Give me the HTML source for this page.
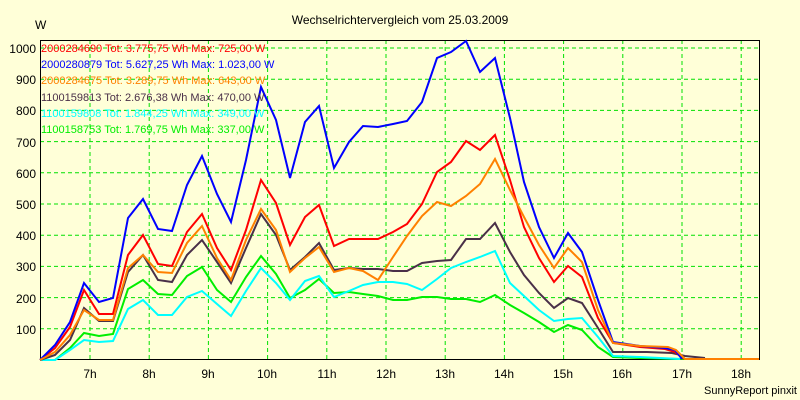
<!DOCTYPE html>
<html><head><style>
html,body{margin:0;padding:0;background:#ffffd8;}
svg{display:block;font-family:"Liberation Sans",sans-serif;}
</style></head><body>
<svg width="800" height="400" viewBox="0 0 800 400" xmlns="http://www.w3.org/2000/svg">
<rect x="0" y="0" width="800" height="400" fill="#ffffd8"/>
<text x="400" y="24" font-size="12" text-anchor="middle" fill="#000">Wechselrichtervergleich vom 25.03.2009</text>
<text x="35" y="29" font-size="12" fill="#000">W</text>
<g stroke="#00e000" stroke-width="1" stroke-dasharray="4,3" fill="none">
<line x1="40" y1="48" x2="759" y2="48"/><line x1="40" y1="79.2" x2="759" y2="79.2"/>
<line x1="40" y1="110.4" x2="759" y2="110.4"/><line x1="40" y1="141.6" x2="759" y2="141.6"/>
<line x1="40" y1="172.8" x2="759" y2="172.8"/><line x1="40" y1="204" x2="759" y2="204"/>
<line x1="40" y1="235.2" x2="759" y2="235.2"/><line x1="40" y1="266.4" x2="759" y2="266.4"/>
<line x1="40" y1="297.6" x2="759" y2="297.6"/><line x1="40" y1="328.8" x2="759" y2="328.8"/>
<line x1="90" y1="40" x2="90" y2="360"/><line x1="149.2" y1="40" x2="149.2" y2="360"/>
<line x1="208.4" y1="40" x2="208.4" y2="360"/><line x1="267.6" y1="40" x2="267.6" y2="360"/>
<line x1="326.8" y1="40" x2="326.8" y2="360"/><line x1="386" y1="40" x2="386" y2="360"/>
<line x1="445.2" y1="40" x2="445.2" y2="360"/><line x1="504.4" y1="40" x2="504.4" y2="360"/>
<line x1="563.6" y1="40" x2="563.6" y2="360"/><line x1="622.8" y1="40" x2="622.8" y2="360"/>
<line x1="682" y1="40" x2="682" y2="360"/><line x1="741.2" y1="40" x2="741.2" y2="360"/>
</g>
<path d="M40.5 360 V40.5 H759.5 V360" stroke="#000" stroke-width="1" fill="none"/>
<line x1="40" y1="359.5" x2="760" y2="359.5" stroke="#000"/>
<g font-size="12" fill="#000" text-anchor="end">
<text x="36" y="53">1000</text><text x="36" y="84">900</text><text x="36" y="115">800</text>
<text x="36" y="147">700</text><text x="36" y="178">600</text><text x="36" y="209">500</text>
<text x="36" y="240">400</text><text x="36" y="271">300</text><text x="36" y="303">200</text>
<text x="36" y="334">100</text>
</g>
<g font-size="12" fill="#000" text-anchor="middle">
<text x="90" y="378">7h</text><text x="149" y="378">8h</text><text x="208" y="378">9h</text>
<text x="267" y="378">10h</text><text x="327" y="378">11h</text><text x="386" y="378">12h</text>
<text x="445" y="378">13h</text><text x="504" y="378">14h</text><text x="563" y="378">15h</text>
<text x="622" y="378">16h</text><text x="682" y="378">17h</text><text x="741" y="378">18h</text>
</g>
<text x="797" y="394" font-size="11" text-anchor="end" fill="#000">SunnyReport pinxit</text>
<g fill="none" stroke-width="2" stroke-linejoin="miter">
<polyline stroke="#00ee00" points="40,360 55,360 70,348 84,333 99,336 113,334 128,289 143,280 158,294 172,295 187,276 202,267 217,290 231,302 246,277 261,256 276,274 290,298 305,290 319,279 334,293 349,292 363,294 378,296 393,300 407,300 422,297 437,297 451,299 466,299 480,302 495,295 510,305 524,313 539,322 554,332 568,325 582,330 598,347 613,357 640,358 680,359 720,359"/>
<polyline stroke="#00ffff" points="40,360 55,360 70,350 84,340 99,342 113,341 128,309 143,300 158,315 172,315 187,297 202,291 217,304 231,316 246,291 261,268 276,283 290,300 305,281 319,276 334,297 349,291 363,285 378,282 393,282 407,284 422,290 437,279 451,268 466,262 480,257 495,251 510,283 524,296 539,310 554,321 568,319 582,318 598,337 613,356 640,357 680,359"/>
<polyline stroke="#4a3048" points="40,360 55,355 70,340 84,308 99,321 113,321 128,272 143,255 158,280 172,282 187,255 202,240 217,262 231,283 246,248 261,214 276,235 290,270 305,257 319,243 334,270 349,268 363,269 378,269 393,271 407,271 422,263 437,261 451,260 466,239 480,239 495,223 510,252 524,275 539,293 554,308 568,298 582,303 598,328 613,352 647,352 672,353 685,356 705,358"/>
<polyline stroke="#ff0000" points="40,360 55,348 70,327 84,290 99,314 113,314 128,255 143,235 158,264 172,266 187,232 202,214 217,248 231,270 246,230 261,180 276,203 290,245 305,217 319,205 334,246 349,239 363,239 378,239 393,232 407,224 422,204 437,172 451,162 466,141 480,150 495,135 510,180 524,227 539,258 554,282 568,266 582,277 598,318 613,343 640,347 665,349 675,352 684,359"/>
<polyline stroke="#0000ff" points="40,360 55,345 70,322 84,283 99,302 113,298 128,218 143,199 158,229 172,231 187,185 202,156 217,194 231,222 246,160 261,87 276,120 290,178 305,122 319,106 334,168 349,142 363,126 378,127 393,124 407,121 422,102 437,58 451,52 466,41 480,72 495,58 510,118 524,182 539,227 554,258 568,233 582,252 598,300 613,342 640,346 665,348 675,350 682,359"/>
<polyline stroke="#ff8000" points="40,360 55,352 70,335 84,310 99,320 113,320 128,268 143,255 158,272 172,273 187,243 202,226 217,258 231,280 246,240 261,209 276,230 290,272 305,258 319,247 334,272 349,268 363,271 378,280 393,257 407,236 422,216 437,202 451,206 466,196 480,184 495,159 510,190 524,217 539,245 554,268 568,248 582,262 598,310 613,343 640,346 668,347 676,350 685,359 759,359"/>
</g>
<g font-size="11">
<text x="41" y="52" fill="#ff0000">2000284690 Tot: 3.775,75 Wh Max: 725,00 W</text>
<text x="41" y="68" fill="#0000ff">2000280879 Tot: 5.627,25 Wh Max: 1.023,00 W</text>
<text x="41" y="84" fill="#ff8000">2000284675 Tot: 3.289,75 Wh Max: 643,00 W</text>
<text x="41" y="101" fill="#4a3048">1100159813 Tot: 2.676,38 Wh Max: 470,00 W</text>
<text x="41" y="117" fill="#00ffff">1100159808 Tot: 1.844,25 Wh Max: 349,00 W</text>
<text x="41" y="133" fill="#00ee00">1100158753 Tot: 1.769,75 Wh Max: 337,00 W</text>
</g>
</svg>
</body></html>
